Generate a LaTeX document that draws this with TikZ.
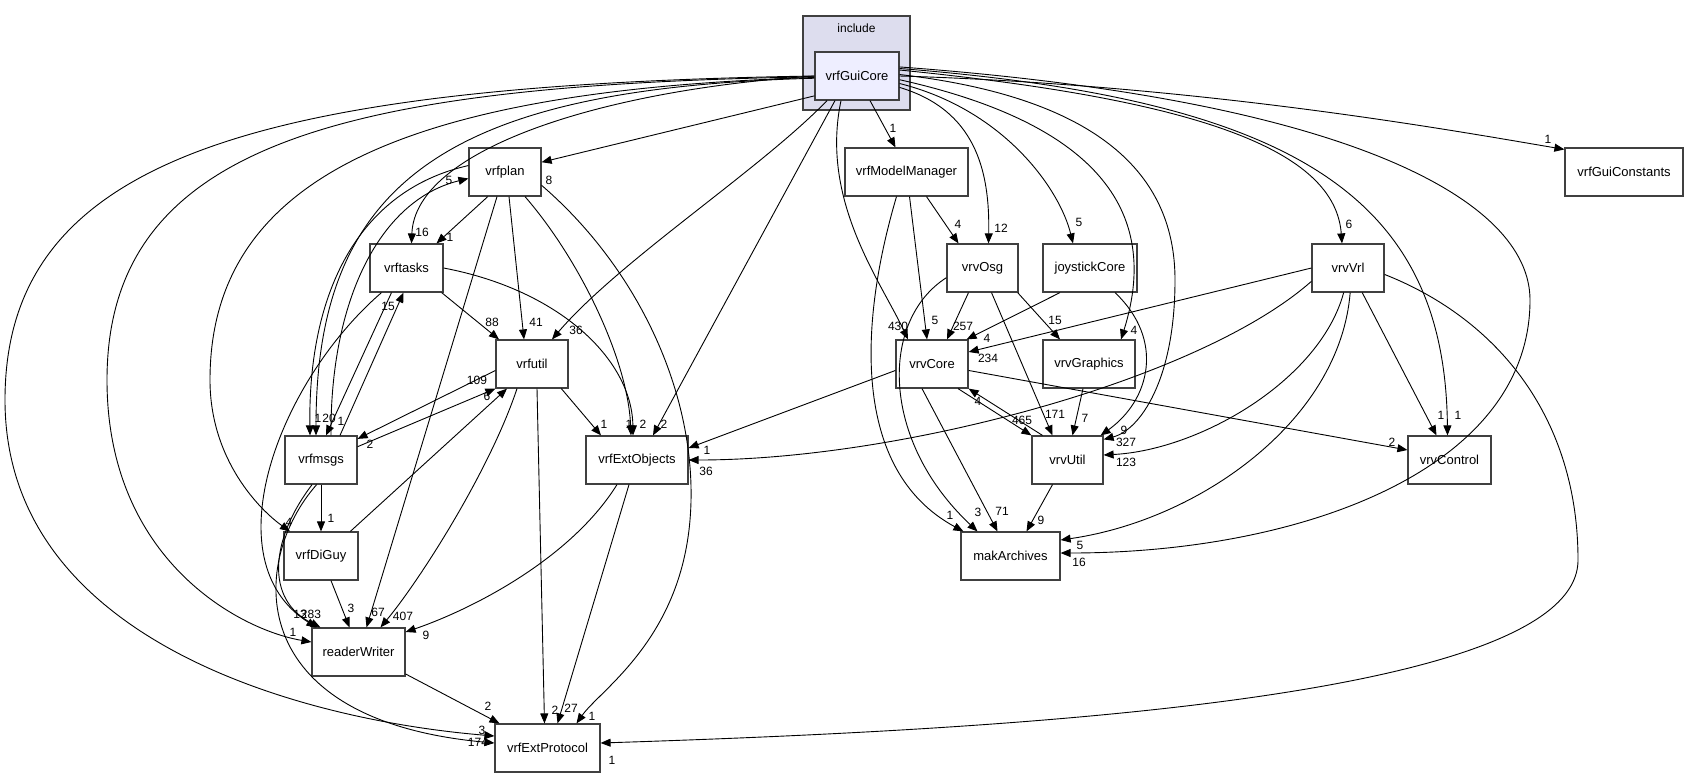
\documentclass[tikz,border=0pt]{standalone}
\usepackage{fontspec}
\setmainfont{Liberation Sans}
\usetikzlibrary{arrows.meta}
\definecolor{clfill}{HTML}{DDDDEE}
\definecolor{gcfill}{HTML}{EEEEFF}
\definecolor{bord}{HTML}{404040}
\begin{document}
\begin{tikzpicture}[x=1pt,y=-1pt,
  box/.style={draw=bord,line width=1.2pt,fill=white,minimum height=48pt,inner sep=0pt,font=\fontsize{13}{15}\selectfont},
  e/.style={-{Triangle[length=10pt,width=8pt]},line width=0.9pt},
  lbl/.style={font=\fontsize{12}{13}\selectfont,inner sep=0pt}]
\useasboundingbox (0,0) rectangle (1688,777);
\fill[clfill] (803,16) rectangle (910,110);
\draw[bord,line width=1.2pt] (803,16) rectangle (910,110);
\node[font=\fontsize{12}{13}\selectfont] (inc) at (856.5,28) {include};
\node[box,fill=gcfill,minimum width=84pt] (G) at (857,76) {vrfGuiCore};
\node[box,minimum width=118pt] (GC) at (1624,172) {vrfGuiConstants};
\node[box,minimum width=72pt] (P) at (505,172) {vrfplan};
\node[box,minimum width=123pt] (MM) at (906.5,172) {vrfModelManager};
\node[box,minimum width=73pt] (T) at (406.5,268) {vrftasks};
\node[box,minimum width=71pt] (O) at (982.5,268) {vrvOsg};
\node[box,minimum width=94pt] (J) at (1090,268) {joystickCore};
\node[box,minimum width=72pt] (V) at (1348,268) {vrvVrl};
\node[box,minimum width=72pt] (U) at (532,364) {vrfutil};
\node[box,minimum width=72pt] (C) at (932,364) {vrvCore};
\node[box,minimum width=92pt] (Gr) at (1089,364) {vrvGraphics};
\node[box,minimum width=72pt] (M) at (321,460) {vrfmsgs};
\node[box,minimum width=102pt] (E) at (637,460) {vrfExtObjects};
\node[box,minimum width=71pt] (Ut) at (1067.5,460) {vrvUtil};
\node[box,minimum width=83pt] (Ctl) at (1449.5,460) {vrvControl};
\node[box,minimum width=74pt] (D) at (321,556) {vrfDiGuy};
\node[box,minimum width=99pt] (MA) at (1010.5,556) {makArchives};
\node[box,minimum width=93pt] (R) at (358.5,652) {readerWriter};
\node[box,minimum width=105pt] (X) at (547.5,748) {vrfExtProtocol};

% from vrfGuiCore
\draw[e] (G.east) .. controls (1200,85) and (1450,130) .. ([yshift=-2pt]GC.north west) node[lbl,at={(1548,139)}]{1};
\draw[e] (G.205) -- (P.15) node[lbl,at={(549,180)}]{8};
\draw[e] ([xshift=13pt]G.south) -- ([xshift=-11pt]MM.north) node[lbl,at={(893,128)}]{1};
\draw[e] (G.west) .. controls (600,90) and (415,150) .. ([xshift=5pt]T.north) node[lbl,at={(422,232)}]{16};
\draw[e] ([xshift=-30pt]G.south) .. controls (760,170) and (620,260) .. ([xshift=20pt]U.north) node[lbl,at={(576,330)}]{36};
\draw[e] (G.183) .. controls (450,88) and (316,180) .. ([xshift=-5pt]M.north) node[lbl,at={(329,418)}]{20};
\draw[e] (G.182) .. controls (400,90) and (210,180) .. (210,380) .. controls (210,460) and (260,510) .. ([xshift=-31pt]D.north) node[lbl,at={(289,522)}]{4};
\draw[e] (G.181) .. controls (350,85) and (107,140) .. (107,380) .. controls (107,560) and (240,630) .. ([yshift=10pt]R.west) node[lbl,at={(293,632)}]{1};
\draw[e] (G.180) .. controls (250,85) and (5,160) .. (5,400) .. controls (5,640) and (300,720) .. ([yshift=12pt]X.west) node[lbl,at={(482,730)}]{3};
\draw[e] ([xshift=-22pt]G.south) -- ([xshift=16pt]E.north) node[lbl,at={(664,424)}]{2};
\draw[e] ([xshift=-16pt]G.south) .. controls (820,200) and (880,280) .. ([xshift=-24pt]C.north) node[lbl,at={(898,326)}]{430};
\draw[e] (G.-15) .. controls (975,110) and (990,170) .. ([xshift=6pt]O.north) node[lbl,at={(1001,228)}]{12};
\draw[e] (G.-10) .. controls (1005,110) and (1060,190) .. ([xshift=-17pt]J.north) node[lbl,at={(1079,222)}]{5};
\draw[e] (G.-5) .. controls (1080,120) and (1165,200) .. ([xshift=32pt]Gr.north) node[lbl,at={(1134,330)}]{4};
\draw[e] (G.2) .. controls (1120,100) and (1175,190) .. (1175,280) .. controls (1175,380) and (1140,430) .. ([yshift=-4pt]Ut.north east) node[lbl,at={(1126,442)}]{327};
\draw[e] (G.8) .. controls (1200,100) and (1335,150) .. ([xshift=-6pt]V.north) node[lbl,at={(1349,224)}]{6};
\draw[e] (G.10) .. controls (1300,100) and (1445,200) .. ([xshift=-2pt]Ctl.north) node[lbl,at={(1458,415)}]{1};
\draw[e] (G.12) .. controls (1350,100) and (1530,200) .. (1530,300) .. controls (1530,470) and (1300,553) .. ([yshift=3pt]MA.east) node[lbl,at={(1079,562)}]{16};

% vrfplan
\draw[e] (P.-125) -- ([xshift=30pt]T.north) node[lbl,at={(450,237)}]{1};
\draw[e] ([xshift=4pt]P.south) -- ([xshift=-8pt]U.north) node[lbl,at={(536,322)}]{41};
\draw[e] ([xshift=20pt]P.south) .. controls (580,260) and (628,360) .. ([xshift=-6pt]E.north) node[lbl,at={(629,424)}]{1};
\draw[e] (P.-20) .. controls (640,270) and (700,400) .. (690,520) .. controls (680,640) and (600,690) .. ([xshift=29pt]X.north) node[lbl,at={(592,716)}]{1};
\draw[e] ([xshift=-8pt]P.south) -- ([xshift=8pt]R.north) node[lbl,at={(378,612)}]{67};
\draw[e] (P.170) .. controls (360,190) and (308,290) .. ([xshift=-11pt]M.north) node[lbl,at={(318,418)}]{1};
\draw[e] ([xshift=10pt]M.north) .. controls (330,300) and (380,200) .. (P.190) node[lbl,at={(449,180)}]{5};

% vrftasks
\draw[e] (T.-35) -- ([xshift=-33pt]U.north) node[lbl,at={(492,322)}]{88};
\draw[e] (T.east) .. controls (560,290) and (632,360) .. ([xshift=-4pt]E.north) node[lbl,at={(643,424)}]{2};
\draw[e] ([xshift=-15pt]T.south) -- ([xshift=5pt]M.north) node[lbl,at={(341,421)}]{1};
\draw[e] ([xshift=19pt]M.north) -- ([xshift=-3pt]T.south) node[lbl,at={(388,306)}]{15};
\draw[e] ([xshift=-25pt]T.south) .. controls (280,380) and (210,560) .. ([xshift=-42pt]R.north) node[lbl,at={(300,614)}]{13};

% vrfmsgs
\draw[e] (M.-110) .. controls (270,540) and (265,600) .. ([xshift=-38pt]R.north) node[lbl,at={(311,614)}]{283};
\draw[e] (M.-100) .. controls (250,560) and (240,720) .. ([yshift=5pt]X.west) node[lbl,at={(478,742)}]{174};
\draw[e] (M) -- (D) node[lbl,at={(331,518)}]{1};
\draw[e] (M.20) -- (U.south west) node[lbl,at={(477,380)}]{109};
\draw[e] (U.-170) -- (M.30) node[lbl,at={(370,444)}]{2};
\draw[e] (D.40) -- ([xshift=-25pt]U.south) node[lbl,at={(487,396)}]{6};

% vrfutil, vrfDiGuy, vrfExtObjects, readerWriter
\draw[e] (U.-40) -- ([xshift=-36pt]E.north) node[lbl,at={(604,424)}]{1};
\draw[e] ([xshift=-15pt]U.south) .. controls (490,470) and (420,580) .. ([xshift=22pt]R.north) node[lbl,at={(403,616)}]{407};
\draw[e] ([xshift=5pt]U.south) -- ([xshift=-3pt]X.north) node[lbl,at={(555,710)}]{2};
\draw[e] ([xshift=10pt]D.south) -- ([xshift=-9pt]R.north) node[lbl,at={(351,608)}]{3};
\draw[e] ([xshift=-20pt]E.south) .. controls (570,560) and (470,610) .. ([yshift=20pt]R.east) node[lbl,at={(426,635)}]{9};
\draw[e] ([xshift=-8pt]E.south) -- ([xshift=10pt]X.north) node[lbl,at={(571,708)}]{27};
\draw[e] (R.-25) -- ([xshift=-48pt]X.north) node[lbl,at={(488,706)}]{2};

% vrfModelManager
\draw[e] ([xshift=20pt]MM.south) -- ([xshift=-24pt]O.north) node[lbl,at={(958,224)}]{4};
\draw[e] ([xshift=3pt]MM.south) -- ([xshift=-5pt]C.north) node[lbl,at={(935,320)}]{5};
\draw[e] ([xshift=-10pt]MM.south) .. controls (860,320) and (850,470) .. ([xshift=3pt]MA.north west) node[lbl,at={(950,515)}]{1};

% vrvOsg
\draw[e] ([xshift=-14pt]O.south) -- ([xshift=15pt]C.north) node[lbl,at={(963,326)}]{257};
\draw[e] (O.-35) -- ([xshift=-29pt]Gr.north) node[lbl,at={(1055,320)}]{15};
\draw[e] ([xshift=9pt]O.south) -- ([xshift=-15pt]Ut.north) node[lbl,at={(1055,414)}]{171};
\draw[e] (O.-165) .. controls (880,320) and (880,440) .. ([xshift=-33pt]MA.north) node[lbl,at={(978,512)}]{3};

% joystickCore, vrvGraphics
\draw[e] ([xshift=-30pt]J.south) -- ([xshift=-2pt]C.north east) node[lbl,at={(987,338)}]{4};
\draw[e] ([xshift=25pt]J.south) .. controls (1165,340) and (1150,400) .. ([xshift=-3pt]Ut.north east) node[lbl,at={(1124,430)}]{9};
\draw[e] ([xshift=-6pt]Gr.south) -- ([xshift=5pt]Ut.north) node[lbl,at={(1085,418)}]{7};

% vrvCore
\draw[e] ([xshift=26pt]C.south) -- (Ut.north west) node[lbl,at={(1022,420)}]{465};
\draw[e] ([xshift=-25pt]Ut.north) -- (C.south east) node[lbl,at={(978,401)}]{4};
\draw[e] ([xshift=-10pt]C.south) -- ([xshift=-13pt]MA.north) node[lbl,at={(1002,511)}]{71};
\draw[e] (C.-170) -- ([yshift=12pt]E.east) node[lbl,at={(707,450)}]{1};
\draw[e] (C.-10) -- ([yshift=10pt]Ctl.west) node[lbl,at={(1392,442)}]{2};
\draw[e] ([xshift=-15pt]Ut.south) -- ([xshift=16pt]MA.north) node[lbl,at={(1041,520)}]{9};

% vrvVrl
\draw[e] (V.west) -- ([yshift=12pt]C.east) node[lbl,at={(988,358)}]{234};
\draw[e] (V.-160) .. controls (1200,380) and (900,460) .. (E.east) node[lbl,at={(706,471)}]{36};
\draw[e] (V.-100) .. controls (1320,380) and (1200,450) .. ([yshift=5pt]Ut.east) node[lbl,at={(1126,462)}]{123};
\draw[e] (V.-60) -- ([xshift=-13pt]Ctl.north) node[lbl,at={(1441,415)}]{1};
\draw[e] (V.-85) .. controls (1340,420) and (1200,520) .. ([yshift=16pt]MA.east) node[lbl,at={(1080,545)}]{5};
\draw[e] (V.-10) .. controls (1500,320) and (1578,420) .. (1578,560) .. controls (1578,700) and (1000,730) .. ([yshift=5pt]X.east) node[lbl,at={(612,760)}]{1};
\end{tikzpicture}
\end{document}
